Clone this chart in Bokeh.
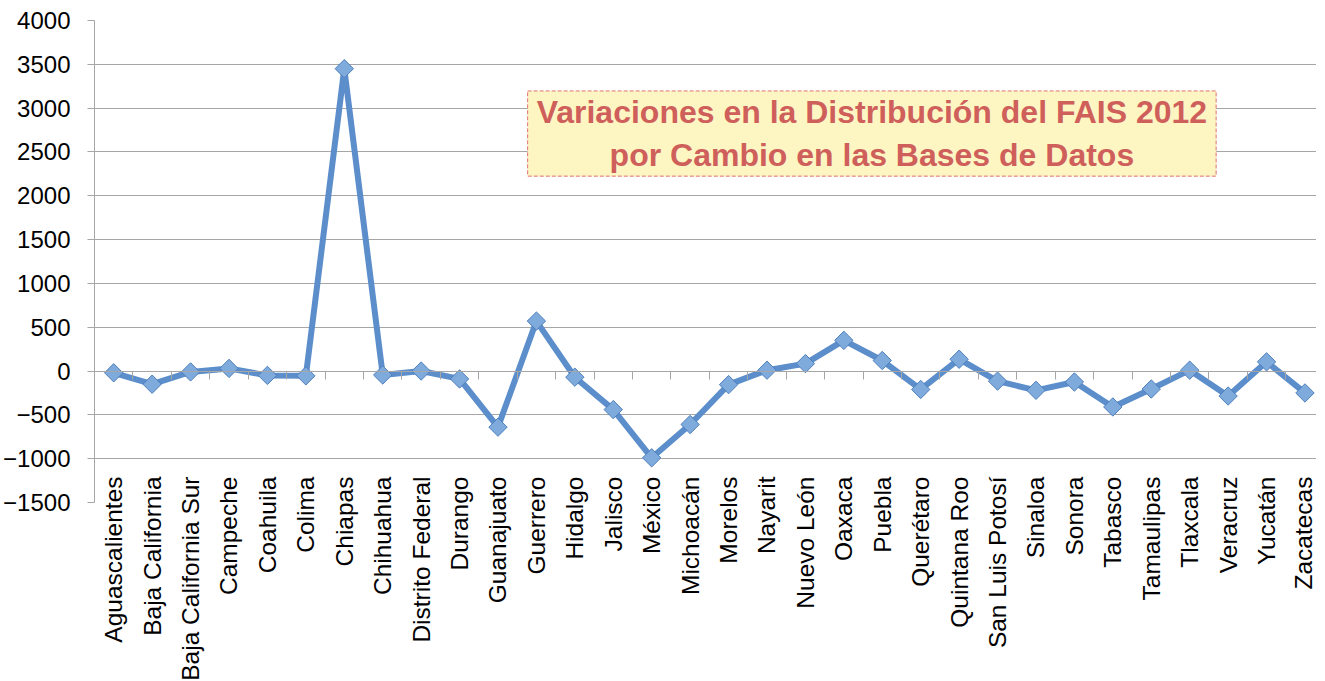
import math
from bokeh.plotting import figure
from bokeh.models import FixedTicker, LinearAxis, Range1d, Label
from bokeh.embed import file_html
from bokeh.resources import INLINE

estados = ["Aguascalientes", "Baja California", "Baja California Sur", "Campeche", "Coahuila",
           "Colima", "Chiapas", "Chihuahua", "Distrito Federal", "Durango", "Guanajuato",
           "Guerrero", "Hidalgo", "Jalisco", "México", "Michoacán", "Morelos", "Nayarit",
           "Nuevo León", "Oaxaca", "Puebla", "Querétaro", "Quintana Roo", "San Luis Potosí",
           "Sinaloa", "Sonora", "Tabasco", "Tamaulipas", "Tlaxcala", "Veracruz", "Yucatán",
           "Zacatecas"]
variacion = [-20, -150, -10, 30, -50, -55, 3450, -45, 0, -90, -640,
             570, -70, -440, -990, -610, -155, 10, 85, 350, 120, -210,
             135, -115, -220, -125, -410, -205, 10, -285, 105, -250]
y_ticks = [-1500, -1000, -500, 0, 500, 1000, 1500, 2000, 2500, 3000, 3500, 4000]
titulo = "Variaciones en la Distribución del FAIS 2012\npor Cambio en las Bases de Datos"

n = len(estados)
xs = [i + 0.5 for i in range(n)]
bounds = list(range(0, n + 1))

FONT = "Liberation Sans"
GRID = "#A6A6A6"

p = figure(frame_width=1222, frame_height=482, output_backend="svg", toolbar_location=None,
           x_range=Range1d(0, n - 0.2), y_range=Range1d(y_ticks[0], y_ticks[-1]),
           min_border_left=94, min_border_top=20, min_border_right=0, min_border_bottom=160,
           background_fill_color="white", border_fill_color="white", outline_line_color=None)

p.xgrid.grid_line_color = None
p.ygrid.grid_line_color = GRID
p.ygrid.grid_line_width = 1

# y axis
p.yaxis.ticker = FixedTicker(ticks=y_ticks)
p.yaxis.major_label_text_font = FONT
p.yaxis.major_label_text_font_size = "24px"
p.yaxis.major_label_text_color = "black"
p.yaxis.axis_line_color = GRID
p.yaxis.major_tick_line_color = GRID
p.yaxis.major_tick_out = 7
p.yaxis.major_tick_in = 0
p.yaxis.minor_tick_line_color = None
p.yaxis.major_label_standoff = 17

# x axis (category labels)
p.xaxis.ticker = FixedTicker(ticks=xs)
p.xaxis.major_label_overrides = {x: s for x, s in zip(xs, estados)}
p.xaxis.major_label_orientation = math.pi / 2
p.xaxis.major_label_text_font = FONT
p.xaxis.major_label_text_font_size = "24.5px"
p.xaxis.major_label_text_color = "black"
p.xaxis.axis_line_color = None
p.xaxis.major_tick_line_color = None
p.xaxis.minor_tick_line_color = None
p.xaxis.major_label_standoff = -32

# category axis line at y = 0 with tick marks between categories
zero_axis = LinearAxis(fixed_location=0, ticker=FixedTicker(ticks=bounds),
                       axis_line_color=GRID, major_tick_line_color=GRID,
                       major_tick_in=8, major_tick_out=0, minor_tick_line_color=None,
                       major_label_text_font_size="1px", major_label_text_alpha=0,
                       major_label_standoff=0)
p.add_layout(zero_axis, "above")

p.line(xs, variacion, line_color="#5B8ECB", line_width=6, line_join="round")
p.scatter(xs, variacion, marker="square", angle=math.pi / 4, size=13,
          fill_color="#7FAADC", line_color="#4F80BD", line_width=1)

lab = Label(x=20.23, y=2710, text=titulo, text_align="center", text_baseline="middle",
            text_font=FONT, text_font_style="bold", text_font_size="32px",
            text_line_height=1.2,
            text_color="#CF5F5B", background_fill_color="#FDF6C3",
            border_line_color="#E07070", border_line_dash="4 2", border_line_width=1,
            padding=(9, 3))
p.add_layout(lab)

open("out.html", "w").write(file_html(p, INLINE))
